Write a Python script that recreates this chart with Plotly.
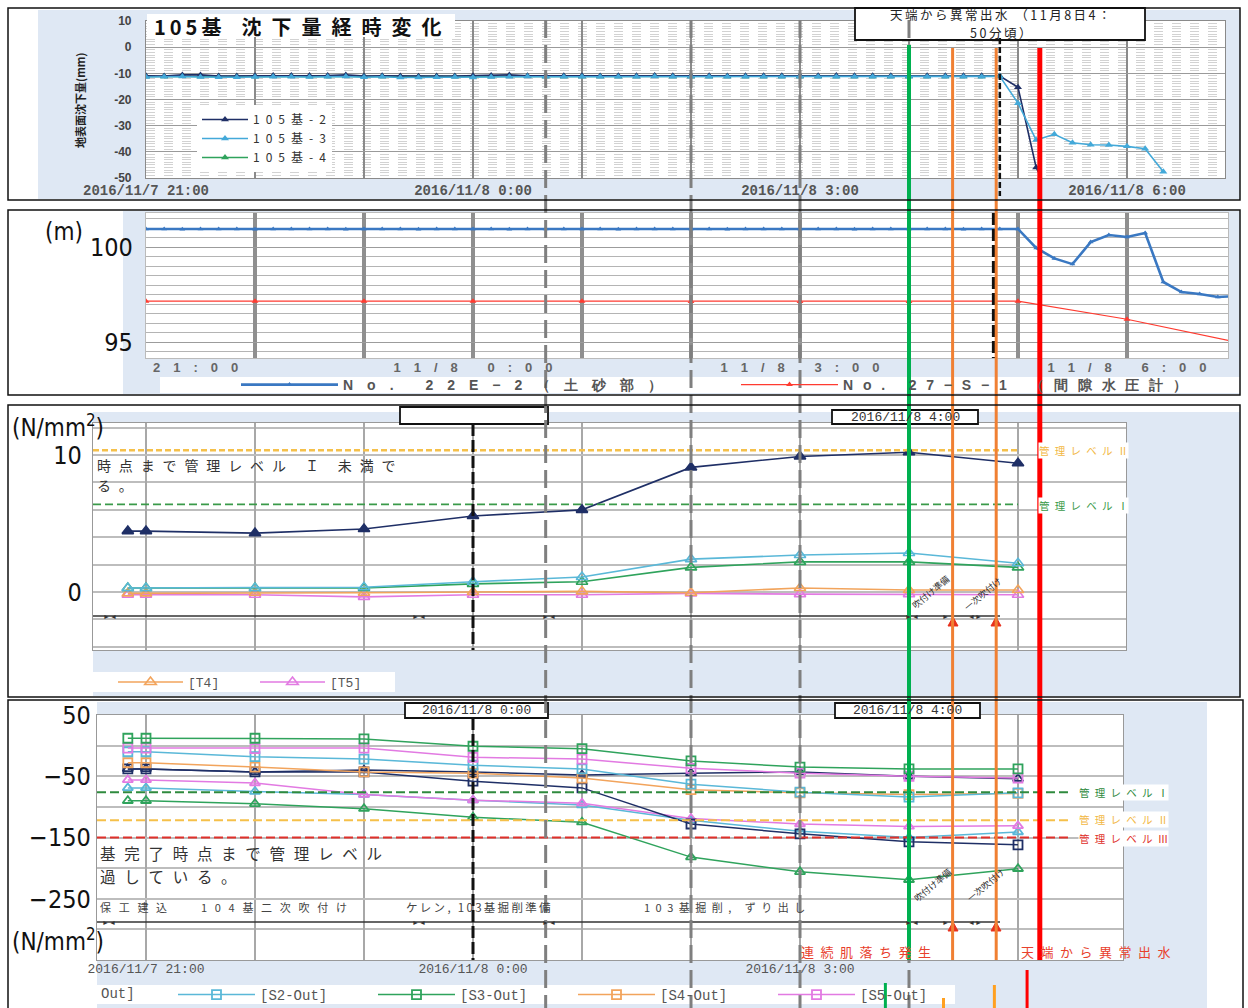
import pandas as pd
import plotly.graph_objects as go

W, H = 1248, 1008
JP = "Noto Sans CJK JP"
SANS = "Liberation Sans, Arial, sans-serif"
NARROW = "Liberation Sans Narrow, DejaVu Sans Condensed, Liberation Sans, sans-serif"
MONO = "Liberation Mono, DejaVu Sans Mono, monospace"

NAVY = "#1f2f66"
CYAN = "#43a9d9"
GREEN = "#2fa35c"
ORANGE = "#f2a45c"
PINK = "#e27ae2"
LB = "#dfe8f4"

# ---------------- data ----------------
# Panel 1: surface settlement (10-minute readings)
settle_time = pd.date_range("2016-11-07 21:00", "2016-11-08 06:20", freq="10min")
settle_105_2 = [
    -10.9, -11.0, -10.6, -10.6, -11.0, -11.0, -10.9, -10.8, -10.8, -10.8, -10.8, -10.6,
    -11.0, -10.9, -11.0, -11.1, -11.0, -11.0, -10.9, -10.8, -10.6, -10.9, -10.9, -10.9,
    -10.9, -11.0, -10.9, -10.9, -10.8, -10.9, -10.9, -10.9, -11.0, -10.9, -10.9, -10.9,
    -10.9, -10.9, -10.8, -10.9, -10.9, -10.9, -10.9, -10.9, -10.9, -10.9, -10.9, -11.0,
    -15.3, -46.0, -60.0, None, None, None, None, None, None,
]
settle_105_3 = [
    -11.4, -11.3, -11.2, -11.4, -11.5, -11.5, -11.4, -11.3, -11.3, -11.4, -11.3, -11.2,
    -11.5, -11.3, -11.6, -11.6, -11.5, -11.4, -11.6, -11.4, -11.3, -11.2, -11.3, -11.3,
    -11.3, -11.3, -11.3, -11.3, -11.2, -11.3, -11.3, -11.3, -11.3, -11.3, -11.3, -11.3,
    -11.3, -11.3, -11.3, -11.3, -11.3, -11.3, -11.3, -11.3, -11.3, -11.3, -11.3, -11.1,
    -21.4, -35.5, -33.3, -36.5, -37.3, -37.4, -37.9, -38.8, -47.6,
]
settle_105_4 = [
    -11.2, -11.2, -11.1, -11.2, -11.2, -11.2, -11.2, -11.1, -11.1, -11.2, -11.2, -11.1,
    -11.2, -11.2, -11.3, -11.3, -11.2, -11.2, -11.3, -11.2, -11.1, -11.1, -11.2, -11.2,
    -11.2, -11.2, -11.2, -11.2, -11.1, -11.2, -11.2, -11.2, -11.2, -11.2, -11.2, -11.2,
    -11.2, -11.2, -11.2, -11.2, -11.2, -11.2, -11.2, -11.2, -11.2, -11.2, -11.2, -11.1,
    None, None, None, None, None, None, None, None, None,
]

# Panel 2: water levels (m)
wl_time = pd.date_range("2016-11-07 21:00", "2016-11-08 07:00", freq="10min")
wl_22e2 = [
    100.95, 100.95, 100.94, 100.95, 100.95, 100.95, 100.94, 100.95, 100.95, 100.95, 100.95, 100.94,
    100.95, 100.95, 100.95, 100.94, 100.95, 100.95, 100.95, 100.95, 100.94, 100.95, 100.95, 100.95,
    100.95, 100.95, 100.94, 100.95, 100.95, 100.95, 100.95, 100.95, 100.94, 100.95, 100.95, 100.95,
    100.95, 100.95, 100.95, 100.94, 100.95, 100.95, 100.95, 100.95, 100.95, 100.94, 100.95, 100.95,
    100.95, 99.95, 99.40, 99.10, 100.26, 100.63, 100.53, 100.74, 98.16, 97.63, 97.53, 97.37, 97.42,
]
pore_time = pd.date_range("2016-11-07 21:00", "2016-11-08 07:00", freq="h")
pore_27s1 = [97.15, 97.15, 97.15, 97.15, 97.15, 97.13, 97.13, 97.13, 97.15, 96.20, 95.00]

# Panels 3 and 4: stress readings (N/mm2)
stress_time = [
    "2016-11-07 20:50", "2016-11-07 21:00", "2016-11-07 22:00", "2016-11-07 23:00",
    "2016-11-08 00:00", "2016-11-08 01:00", "2016-11-08 02:00", "2016-11-08 03:00",
    "2016-11-08 04:00", "2016-11-08 05:00",
]
t1 = [4.45, 4.45, 4.30, 4.60, 5.55, 6.00, 9.10, 9.90, 10.20, 9.40]
t2 = [0.30, 0.30, 0.30, 0.35, 0.75, 1.10, 2.40, 2.70, 2.85, 2.10]
t3 = [0.30, 0.30, 0.30, 0.30, 0.60, 0.75, 1.80, 2.20, 2.20, 1.80]
t4 = [-0.10, -0.10, -0.05, -0.05, 0.00, 0.05, -0.05, 0.30, 0.15, 0.15]
t5 = [-0.20, -0.20, -0.20, -0.35, -0.20, -0.20, -0.10, -0.15, -0.15, -0.20]
t_level_1 = 6.4
t_level_2 = 10.35

s1_out = [-38, -38, -43, -43, -58, -69, -128, -144, -157, -162]
s2_out = [-10, -10, -18, -22, -32, -38, -63, -76, -84, -77]
s3_out = [12, 12, 12, 11, -1, -5, -25, -35, -38, -38]
s4_out = [-28, -28, -35, -43, -45, -53, -72, -77, -80, -78]
s5_out = [-4, -4, -5, -4, -19, -22, -37, -45, -50, -53]
s1_in = [-38, -38, -43, -40, -43, -48, -45, -43, -50, -54]
s2_in = [-69, -69, -75, -80, -89, -97, -122, -140, -150, -141]
s3_in = [-90, -90, -95, -103, -117, -125, -182, -206, -219, -201]
s5_in = [-56, -56, -61, -80, -89, -94, -119, -128, -132, -131]
s_level_1 = -76
s_level_2 = -122
s_level_3 = -150

hour_ticks = pd.date_range("2016-11-07 21:00", "2016-11-08 07:00", freq="h")
date_labels = ["2016/11/7 21:00", "", "", "2016/11/8 0:00", "", "", "2016/11/8 3:00", "", "", "2016/11/8 6:00", ""]
short_labels = ["", "", "", "11/8 0:00", "", "", "11/8 3:00", "", "", "11/8 6:00", ""]

# ---------------- page geometry helpers ----------------
T0 = pd.Timestamp("2016-11-07 21:00")
X_T0, PX_PER_H = 146, 109


def x_of(ts):
    return X_T0 + (pd.Timestamp(ts) - T0).total_seconds() / 3600 * PX_PER_H


def t_at(xpx):
    return (T0 + pd.Timedelta(hours=(xpx - X_T0) / PX_PER_H)).round("s").strftime("%Y-%m-%d %H:%M:%S")


def fx(xpx):
    return xpx / W


def fy(ypx):
    return 1 - ypx / H


EN = "\u2002"
EN_HAIR = "\u2002\u200a"
EN_THIN = "\u2002\u2009"
THIN = "\u2009"


def track(s, gap=EN):
    return gap.join(s)


fig = go.Figure()

# ---------------- panel 1 traces ----------------
for name, ys, col, rank in [("105基-4", settle_105_4, GREEN, 3),
                            ("105基-2", settle_105_2, NAVY, 1),
                            ("105基-3", settle_105_3, CYAN, 2)]:
    fig.add_trace(go.Scatter(
        x=settle_time, y=ys, name=track(name), mode="lines+markers",
        line=dict(color=col, width=1.6), marker=dict(symbol="triangle-up", size=7, color=col),
        xaxis="x", yaxis="y", legend="legend", legendrank=rank))

# ---------------- panel 2 traces ----------------
fig.add_trace(go.Scatter(
    x=wl_time, y=wl_22e2, name=track("No. 22E−2（土砂部）", "\u2003"), mode="lines+markers",
    line=dict(color="#3a78c2", width=2.6), marker=dict(symbol="triangle-up", size=5, color="#3a78c2"),
    xaxis="x2", yaxis="y2", legend="legend2"))
fig.add_trace(go.Scatter(
    x=pore_time, y=pore_27s1, name=track("No. 27−S−1 （間隙水圧計）", EN_THIN), mode="lines+markers",
    line=dict(color="#ff3b30", width=1.2), marker=dict(symbol="triangle-up", size=6, color="#ff3b30"),
    xaxis="x2", yaxis="y2", legend="legend2"))

# ---------------- panel 3 traces ----------------
for name, ys, col, sym, show in [("[T5]", t5, PINK, "triangle-up-open", True),
                                 ("[T4]", t4, ORANGE, "triangle-up-open", True),
                                 ("[T3]", t3, GREEN, "triangle-up-open", False),
                                 ("[T2]", t2, "#5ab8d8", "triangle-up-open", False),
                                 ("[T1]", t1, NAVY, "triangle-up", False)]:
    fig.add_trace(go.Scatter(
        x=stress_time, y=ys, name=name, mode="lines+markers",
        line=dict(color=col, width=1.6), marker=dict(symbol=sym, size=10, color=col, line=dict(width=1.6, color=col)),
        xaxis="x3", yaxis="y3", legend="legend3", showlegend=show,
        legendrank={"[T4]": 1, "[T5]": 2}.get(name, 3)))

# ---------------- panel 4 traces ----------------
p4 = [("[S3-In]", s3_in, GREEN, "triangle-up-open", False),
      ("[S2-In]", s2_in, "#5ab8d8", "triangle-up-open", False),
      ("[S5-In]", s5_in, PINK, "triangle-up-open", False),
      ("[S1-In]", s1_in, NAVY, "triangle-up-open", False),
      ("[S1-Out]", s1_out, NAVY, "square-open", False),
      ("[S4-Out]", s4_out, ORANGE, "square-open", True),
      ("[S2-Out]", s2_out, "#5ab8d8", "square-open", True),
      ("[S5-Out]", s5_out, PINK, "square-open", True),
      ("[S3-Out]", s3_out, GREEN, "square-open", True)]
rank4 = {"[S2-Out]": 1, "[S3-Out]": 2, "[S4-Out]": 3, "[S5-Out]": 4}
for name, ys, col, sym, show in p4:
    fig.add_trace(go.Scatter(
        x=stress_time, y=ys, name=name, mode="lines+markers",
        line=dict(color=col, width=1.5), marker=dict(symbol=sym, size=9, color=col, line=dict(width=1.8, color=col)),
        xaxis="x4", yaxis="y4", legend="legend4", showlegend=show, legendrank=rank4.get(name, 9)))


# ---------------- axes ----------------
def xaxis(left, right, anchor, ticktext, font, grid, gw, line, show_labels=True, standoff=4):
    return dict(domain=[fx(left), fx(right)], range=[t_at(left), t_at(right)], type="date",
                anchor=anchor, tickmode="array", tickvals=list(hour_ticks), ticktext=ticktext,
                showticklabels=show_labels, tickfont=font, ticks="", ticklabelstandoff=standoff,
                showgrid=True, gridcolor=grid, gridwidth=gw, zeroline=False, automargin=False,
                showline=True, linecolor=line, linewidth=1.2, mirror=True, fixedrange=True)


def yaxis(top, bottom, anchor, rng, tickvals, ticktext, font, grid, gw, minor, line, standoff):
    return dict(domain=[fy(bottom), fy(top)], range=rng, anchor=anchor, tickmode="array",
                tickvals=tickvals, ticktext=ticktext, tickfont=font, ticks="", ticklabelstandoff=standoff,
                showgrid=True, gridcolor=grid, gridwidth=gw, zeroline=False, minor=minor, automargin=False,
                showline=True, linecolor=line, linewidth=1.2, mirror=True, fixedrange=True)


p1_yticks = [10, 0, -10, -20, -30, -40, -50]
layout_axes = dict(
    xaxis=xaxis(146, 1225, "y", date_labels, dict(family=MONO, size=14, color="#555", weight="bold"),
                "#8a8a8a", 1.5, "#8a8a8a", standoff=-1),
    yaxis=yaxis(21, 178, "x", [-50, 10], p1_yticks, [str(v) for v in p1_yticks],
                dict(family=SANS, size=12, color="#444", weight="bold"), "#9a9a9a", 1,
                dict(tickmode="linear", tick0=0, dtick=1, showgrid=True, gridcolor="#d2d2d2",
                     griddash="dash", gridwidth=0.8), "#8a8a8a", 11),
    xaxis2=xaxis(146, 1228, "y2", [track(s, "\u2003") if s else "" for s in short_labels],
                 dict(family=SANS, size=13, color="#666", weight="bold"), "#8f8f8f", 3.5, "#bbbbbb",
                 standoff=-3),
    yaxis2=yaxis(213, 358, "x2", [94.16, 101.79], [95, 100], ["95", "100"],
                 dict(family=NARROW, size=25, color="#111"), "#9c9c9c", 1,
                 dict(tickmode="linear", tick0=0, dtick=0.5, showgrid=True, gridcolor="#b4b4b4",
                      gridwidth=1), "#bbbbbb", 7),
    xaxis3=xaxis(93, 1126, "y3", date_labels, dict(family=MONO, size=13, color="#555"),
                 "#a8a8a8", 1.6, "#999999", show_labels=False),
    yaxis3=yaxis(423, 650, "x3", [-4.23, 12.34], [0, 10], ["0", "10"],
                 dict(family=NARROW, size=25, color="#111"), "#bdbdbd", 1.5,
                 dict(tickmode="linear", tick0=0, dtick=2, showgrid=True, gridcolor="#bdbdbd",
                      gridwidth=1.5), "#999999", 5),
    xaxis4=xaxis(97, 1123, "y4", date_labels, dict(family=MONO, size=13, color="#555"),
                 "#a8a8a8", 1.6, "#999999", standoff=-4),
    yaxis4=yaxis(715, 960, "x4", [-350, 50], [50, -50, -150, -250], ["50", "−50", "−150", "−250"],
                 dict(family=NARROW, size=25, color="#111"), "#bdbdbd", 1.5,
                 dict(tickmode="linear", tick0=0, dtick=50, showgrid=True, gridcolor="#bdbdbd",
                      gridwidth=1.5), "#999999", 0),
)

# ---------------- shapes ----------------
shapes = []


def rect(x0, y0, x1, y1, fill=None, line=None, lw=1.5, layer="below"):
    shapes.append(dict(type="rect", xref="paper", yref="paper", x0=fx(x0), x1=fx(x1), y0=fy(y1), y1=fy(y0),
                       fillcolor=fill or "rgba(0,0,0,0)",
                       line=dict(color=line or "rgba(0,0,0,0)", width=lw if line else 0), layer=layer))


def vline(x, y0, y1, color, width, dash="solid", layer="above"):
    shapes.append(dict(type="line", xref="paper", yref="paper", x0=fx(x), x1=fx(x), y0=fy(y0), y1=fy(y1),
                       line=dict(color=color, width=width, dash=dash), layer=layer))


def hline(xa, ya, t_start, t_end, yval, color, width, dash):
    shapes.append(dict(type="line", xref=xa, yref=ya, x0=t_start, x1=t_end, y0=yval, y1=yval,
                       line=dict(color=color, width=width, dash=dash), layer="above"))


def up_arrow(x, y_head, length, color="#e8301c"):
    # stem plus a small filled head pointing up
    shapes.append(dict(type="line", xref="paper", yref="paper", x0=fx(x), x1=fx(x),
                       y0=fy(y_head + length), y1=fy(y_head + 6), line=dict(color=color, width=2),
                       layer="above"))
    path = "M {:.5f},{:.5f} L {:.5f},{:.5f} L {:.5f},{:.5f} Z".format(
        fx(x), fy(y_head), fx(x - 5), fy(y_head + 9), fx(x + 5), fy(y_head + 9))
    shapes.append(dict(type="path", xref="paper", yref="paper", path=path, fillcolor=color,
                       line=dict(color=color, width=1), layer="above"))


# panel backgrounds
rect(38, 10, 1240, 199, fill=LB)
rect(146, 20, 1225, 179, fill="white")
rect(123, 211, 1240, 394, fill=LB)
rect(146, 213, 1228, 358, fill="white")
rect(160, 377, 1240, 393, fill="white")
rect(93, 412, 1240, 696, fill=LB)
rect(93, 423, 1126, 650, fill="white")
rect(93, 672, 395, 692, fill="white")
rect(97, 702, 1207, 1008, fill=LB)
rect(97, 715, 1123, 960, fill="white")
rect(97, 985, 955, 1004, fill="white")

# management levels
hline("x3", "y3", t_at(93), "2016-11-08 05:00", t_level_2, "#f5c04a", 2.5, "6px,3px")
hline("x3", "y3", t_at(93), "2016-11-08 05:00", t_level_1, "#3a9a4a", 1.6, "8px,4px")
hline("x4", "y4", t_at(97), t_at(1068), s_level_1, "#2f8a3e", 2, "9px,4px")
hline("x4", "y4", t_at(97), t_at(1068), s_level_2, "#f5c04a", 2, "9px,4px")
hline("x4", "y4", t_at(97), t_at(1068), s_level_3, "#e0302a", 2, "9px,4px")

# work-progress arrow lines
for ypx, x0 in [(616, 93), (922, 97)]:
    shapes.append(dict(type="line", xref="paper", yref="paper", x0=fx(x0), x1=fx(1000), y0=fy(ypx), y1=fy(ypx),
                       line=dict(color="#333", width=1.5), layer="above"))
up_arrow(953, 617, 24)
up_arrow(996, 617, 24)
up_arrow(953, 922, 38)
up_arrow(996, 922, 38)

# text boxes
rect(147, 14, 455, 37, fill="white", layer="above")
rect(855, 8, 1145, 40, fill="white", line="#111", lw=1.8, layer="above")
rect(400, 407, 548, 424, fill="white", line="#111", lw=1.8, layer="above")
rect(832, 410, 978, 424, fill="white", line="#111", lw=1.8, layer="above")
rect(405, 703, 548, 718, fill="white", line="#111", lw=1.8, layer="above")
rect(835, 703, 980, 718, fill="white", line="#111", lw=1.8, layer="above")

# time markers drawn through all panels
for ts in ["2016-11-08 00:40", "2016-11-08 02:00", "2016-11-08 03:00", "2016-11-08 04:00"]:
    vline(x_of(ts), 20, 1008, "#7f7f7f", 3, "18px,7px")
vline(x_of("2016-11-08 04:50"), 38, 196, "#111", 2.5, "6px,3px")
vline(x_of("2016-11-08 04:47"), 213, 358, "#111", 5, "12px,4px")
for ts, top, bot in [("2016-11-08 00:00", 424, 650), ("2016-11-08 00:00", 718, 960),
                     ("2016-11-08 04:00", 424, 650), ("2016-11-08 04:00", 718, 960)]:
    vline(x_of(ts), top, bot, "#111", 3 if ts.endswith("00:00") else 2, "12px,4px")
vline(x_of("2016-11-08 04:00"), 45, 960, "#00b050", 4)
vline(x_of("2016-11-08 04:24"), 48, 960, "#f08033", 3)
vline(x_of("2016-11-08 04:48"), 48, 960, "#f08033", 3)
vline(x_of("2016-11-08 05:12"), 48, 960, "#ff0000", 5)
vline(x_of("2016-11-08 03:47"), 983, 1008, "#00b050", 3)
vline(x_of("2016-11-08 04:19"), 998, 1008, "#ffa020", 3)
vline(x_of("2016-11-08 04:47"), 985, 1008, "#ffa020", 3)
vline(x_of("2016-11-08 05:05"), 970, 1008, "#ff0000", 3)

# panel borders
rect(8, 8, 1240, 200, line="#111", lw=1.5, layer="above")
rect(8, 210, 1240, 395, line="#111", lw=1.5, layer="above")
rect(8, 405, 1240, 697, line="#111", lw=1.5, layer="above")
rect(8, 700, 1243, 1012, line="#111", lw=1.5, layer="above")

# ---------------- annotations ----------------
ann = []


def note(x, y, text, size=12, color="#333", family=JP, xanchor="left", yanchor="middle",
         bg=None, angle=0, weight="normal"):
    ann.append(dict(x=fx(x), y=fy(y), xref="paper", yref="paper", text=text, showarrow=False,
                    font=dict(size=size, color=color, family=family, weight=weight), align="left",
                    xanchor=xanchor, yanchor=yanchor, bgcolor=bg, textangle=angle, borderpad=0))


# panel 1
note(153, 26, track("105基", THIN) + "\u2003" + track("沈下量経時変化", EN), size=20, color="#111", weight="bold")
note(1000, 15, track("天端から異常出水 （11月8日4：", THIN), size=12.5, color="#222", xanchor="center")
note(1000, 33, track("50分頃）", THIN), size=12.5, color="#222", xanchor="center")
note(80, 100, "地表面沈下量(mm)", size=11, color="#222", xanchor="center", angle=-90, weight="bold")

# panel 2
note(64, 232, "(m)", size=24, color="#111", family=NARROW, xanchor="center")
note(152, 367, track("21:00", "\u2003"), size=13, color="#666", family=SANS, weight="bold")

# panel 3
note(11, 426, "(N/mm<sup>2</sup>)", size=24, color="#111", family=NARROW)
note(905, 417, "2016/11/8 4:00", size=13, color="#333", family=MONO, xanchor="center")
note(96, 465, track("時点まで管理レベル Ｉ 未満で", EN_HAIR), size=14, color="#333")
note(96, 485, track("る。", EN_HAIR), size=14, color="#333")
note(1038, 451, track("管理レベルⅡ"), size=10.5, color="#f2b845", bg="white")
note(1038, 505, track("管理レベルⅠ"), size=10.5, color="#3a9a4a", bg="white")
note(930, 592, "吹付け準備", size=9, color="#333", xanchor="center", angle=-40)
note(982, 594, "一次吹付け", size=9, color="#333", xanchor="center", angle=-40)
for xpx in [110, 419, 549, 912]:
    note(xpx, 616, "►◄", size=7, color="#333", xanchor="center")
note(945, 616, "►", size=7, color="#333", xanchor="center")
note(975, 616, "◄►", size=7, color="#333", xanchor="center")

# panel 4
note(11, 940, "(N/mm<sup>2</sup>)", size=24, color="#111", family=NARROW)
note(476, 710, "2016/11/8 0:00", size=13, color="#333", family=MONO, xanchor="center")
note(907, 710, "2016/11/8 4:00", size=13, color="#333", family=MONO, xanchor="center")
note(99, 853, track("基完了時点まで管理レベル", EN_HAIR), size=15.5, color="#333")
note(99, 876, track("過している。", EN_HAIR), size=15.5, color="#333")
note(99, 907, track("保工建込", EN_THIN), size=11, color="#444")
note(200, 907, track("104基二次吹付け", EN_THIN), size=11, color="#444")
note(405, 907, track("ケレン, 103基掘削準備", THIN), size=11.5, color="#444")
note(643, 907, track("103基掘削, ずり出し", EN), size=11, color="#444")
note(800, 951, track("連続肌落ち発生", EN), size=13, color="#e8402c")
note(1020, 951, track("天端から異常出水", EN), size=13, color="#e8402c")
note(1078, 792, track("管理レベルⅠ"), size=10.5, color="#2f8a3e", bg="white")
note(1078, 819, track("管理レベルⅡ"), size=10.5, color="#f2b845", bg="white")
note(1078, 838, track("管理レベルⅢ"), size=10.5, color="#e0302a", bg="white")
note(932, 885, "吹付け準備", size=9, color="#333", xanchor="center", angle=-40)
note(985, 885, "一次吹付け", size=9, color="#333", xanchor="center", angle=-40)
for xpx in [109, 419, 549, 912]:
    note(xpx, 922, "►◄", size=7, color="#333", xanchor="center")
note(945, 922, "►", size=7, color="#333", xanchor="center")
note(975, 922, "◄►", size=7, color="#333", xanchor="center")
note(100, 994, "Out]", size=14, color="#555", family=MONO)

fig.update_layout(
    width=W, height=H, margin=dict(l=0, r=0, t=0, b=0, autoexpand=False), autosize=False,
    paper_bgcolor="white", plot_bgcolor="rgba(0,0,0,0)", showlegend=True,
    shapes=shapes, annotations=ann,
    legend=dict(x=fx(197), y=fy(105), xanchor="left", yanchor="top", bgcolor="white",
                font=dict(family=JP, size=12, color="#333"), tracegroupgap=0, itemwidth=46),
    legend2=dict(orientation="h", x=fx(236), y=fy(369), xanchor="left", yanchor="top",
                 bgcolor="rgba(0,0,0,0)", entrywidth=388, entrywidthmode="pixels", itemwidth=97,
                 font=dict(family=SANS, size=14, color="#555", weight="bold")),
    legend3=dict(orientation="h", x=fx(113), y=fy(667), xanchor="left", yanchor="top",
                 bgcolor="rgba(0,0,0,0)", entrywidth=62, entrywidthmode="pixels", itemwidth=65,
                 font=dict(family=MONO, size=13, color="#555")),
    legend4=dict(orientation="h", x=fx(173), y=fy(979), xanchor="left", yanchor="top",
                 bgcolor="rgba(0,0,0,0)", entrywidth=108, entrywidthmode="pixels", itemwidth=77,
                 font=dict(family=MONO, size=14, color="#555")),
    **layout_axes,
)

fig.write_html("out.html")
